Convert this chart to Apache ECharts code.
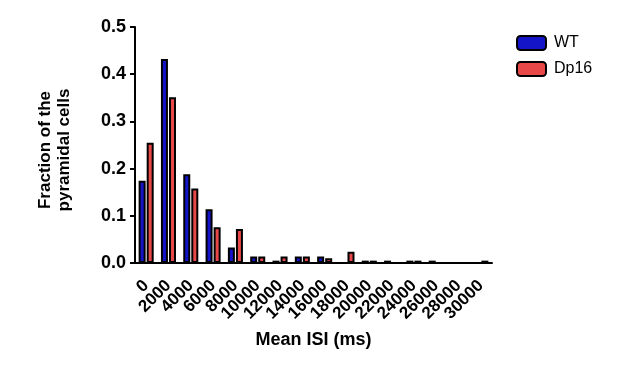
<!DOCTYPE html>
<html>
<head>
<meta charset="utf-8">
<script src="https://cdn.jsdelivr.net/npm/echarts@6/dist/echarts.min.js"></script>
<style>html,body{margin:0;padding:0;background:#fff}#c{width:617px;height:367px}</style>
</head>
<body>
<div id="c"></div>
<script>
const categories = ['0','2000','4000','6000','8000','10000','12000','14000','16000','18000','20000','22000','24000','26000','28000','30000'];
const wtValues   = [0.174,0.432,0.188,0.114,0.033,0.014,0.005,0.014,0.014,0,0.005,0.005,0.005,0.005,0,0];
const dp16Values = [0.255,0.351,0.158,0.076,0.072,0.014,0.014,0.014,0.010,0.024,0.005,0,0.005,0,0,0.005];
const seriesNames = ['WT','Dp16'];

const chart = echarts.init(document.getElementById('c'), null, {renderer:'canvas'});
const font = 'Liberation Sans, Arial, Helvetica, sans-serif';
chart.setOption({
  animation:false,
  backgroundColor:'#ffffff',
  grid:{left:135,right:125,top:27,bottom:104,containLabel:false},
  legend:{
    data:seriesNames,
    orient:'vertical',
    left:516, top:35, padding:0,
    itemWidth:29, itemHeight:14, itemGap:10,
    textStyle:{fontFamily:font,fontSize:16,color:'#000',padding:[0,0,0,3]}
  },
  xAxis:{
    type:'category',
    data:categories,
    name:'Mean ISI (ms)',
    nameLocation:'middle',
    nameGap:68,
    nameTextStyle:{fontFamily:font,fontSize:18,fontWeight:'bold',color:'#000'},
    axisLine:{lineStyle:{color:'#000',width:2}},
    axisTick:{alignWithLabel:true,length:6,lineStyle:{color:'#000',width:2}},
    axisLabel:{rotate:45,fontFamily:font,fontSize:17,fontWeight:'bold',color:'#000',margin:20,interval:0}
  },
  yAxis:{
    type:'value',
    min:0,max:0.5,interval:0.1,
    name:'Fraction of the\npyramidal cells',
    nameLocation:'middle',
    nameGap:61,
    nameTextStyle:{fontFamily:font,fontSize:17,fontWeight:'bold',color:'#000',lineHeight:19,padding:[0,10,0,0]},
    axisLine:{show:true,lineStyle:{color:'#000',width:2}},
    axisTick:{show:true,length:5,lineStyle:{color:'#000',width:2}},
    splitLine:{show:false},
    axisLabel:{formatter:v=>v.toFixed(1),fontFamily:font,fontSize:18,fontWeight:'bold',color:'#000',margin:9}
  },
  series:[
    {name:'WT',type:'bar',data:wtValues,barWidth:7,barGap:'15%',
     itemStyle:{color:'#1414c8',borderColor:'#000',borderWidth:2}},
    {name:'Dp16',type:'bar',data:dp16Values,barWidth:7,
     itemStyle:{color:'#e84848',borderColor:'#000',borderWidth:2}}
  ]
});
</script>
</body>
</html>
